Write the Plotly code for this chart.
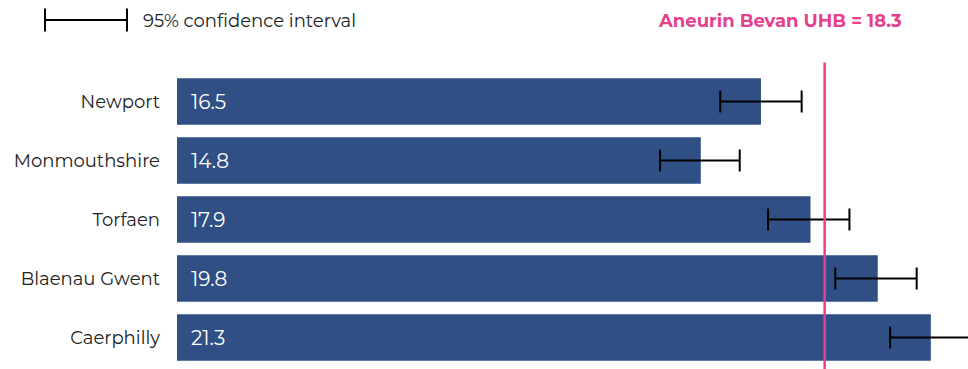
import plotly.graph_objects as go

areas = ["Newport", "Monmouthshire", "Torfaen", "Blaenau Gwent", "Caerphilly"]
values = [16.5, 14.8, 17.9, 19.8, 21.3]
ci_lower = [15.35, 13.65, 16.7, 18.6, 20.15]
ci_upper = [17.65, 15.9, 19.0, 20.9, 22.45]
health_board = "Aneurin Bevan UHB"
hb_value = 18.3

BAR = "#2F4F85"
PINK = "#E6418A"
FONT = "Montserrat, 'Open Sans', sans-serif"

err_plus = [u - v for u, v in zip(ci_upper, values)]
err_minus = [v - l for v, l in zip(values, ci_lower)]

fig = go.Figure()
fig.add_trace(go.Bar(
    x=values, y=areas, orientation="h",
    marker=dict(color=BAR, line=dict(width=0)),
    error_x=dict(type="data", array=err_plus, arrayminus=err_minus,
                 color="black", thickness=2, width=11),
    hoverinfo="skip", showlegend=False,
))

for a, v in zip(areas, values):
    fig.add_annotation(x=0, y=a, xref="x", yref="y", text=f"{v:.1f}",
                       showarrow=False, xanchor="left", xshift=12,
                       font=dict(color="white", size=20, family=FONT))

# reference line
fig.add_shape(type="line", xref="x", yref="paper", x0=hb_value, x1=hb_value,
              y0=-0.01, y1=1.032, line=dict(color=PINK, width=2.5), layer="above")
fig.add_annotation(xref="paper", yref="paper", x=(779.5 - 177) / 791, y=1.0,
                   text=f"<b>{health_board} = {hb_value}</b>", showarrow=False,
                   xanchor="center", yanchor="middle",
                   yshift=(72 - 21), font=dict(color=PINK, size=18, family=FONT))

# legend icon
lg_y = 1 + (72 - 20) / 295
cap = 11.5 / 295
x_l = (45 - 177) / 791
x_r = (127 - 177) / 791
fig.add_shape(type="line", xref="paper", yref="paper", x0=x_l, x1=x_r, y0=lg_y, y1=lg_y,
              line=dict(color="black", width=2))
for xx in (x_l, x_r):
    fig.add_shape(type="line", xref="paper", yref="paper", x0=xx, x1=xx,
                  y0=lg_y - cap, y1=lg_y + cap, line=dict(color="black", width=2))
fig.add_annotation(xref="paper", yref="paper", x=(141 - 177) / 791, y=lg_y,
                   text="95% confidence interval", showarrow=False,
                   xanchor="left", yanchor="middle", yshift=-1,
                   font=dict(color="#222222", size=18, family=FONT))

fig.update_layout(
    width=968, height=369,
    margin=dict(l=177, r=0, t=72, b=2),
    paper_bgcolor="white", plot_bgcolor="white",
    bargap=0.21,
    font=dict(family=FONT, color="#222222", size=18),
    xaxis=dict(range=[0, 22.35], visible=False, fixedrange=True),
    yaxis=dict(autorange="reversed", showgrid=False, showline=False, zeroline=False,
               ticks="", ticklabelstandoff=16,
               tickfont=dict(size=18, family=FONT, color="#222222")),
)

fig.write_html("out.html")
